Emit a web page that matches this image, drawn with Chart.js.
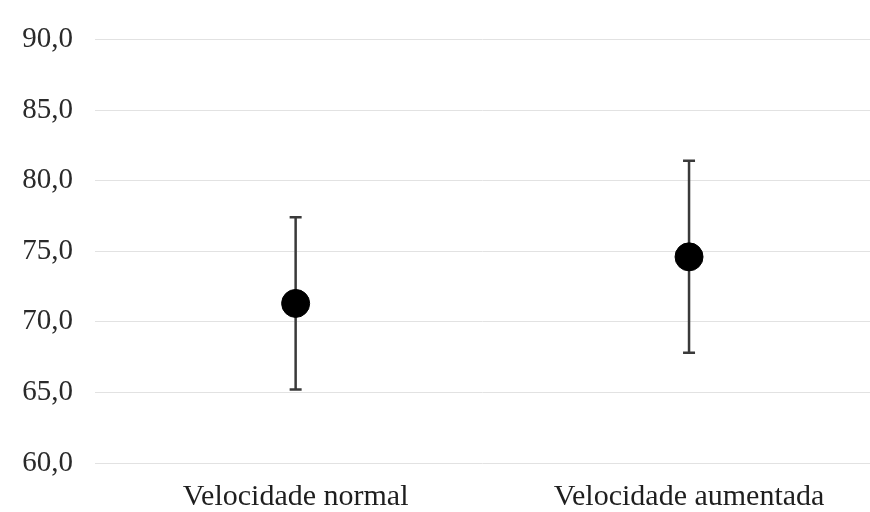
<!DOCTYPE html>
<html>
<head>
<meta charset="utf-8">
<script src="https://cdn.jsdelivr.net/npm/chart.js@4/dist/chart.umd.min.js"></script>
<style>
  html, body { margin: 0; padding: 0; background: #fff; overflow: hidden; }
  canvas { display: block; }
</style>
</head>
<body>
<canvas id="errChart" width="870" height="512"></canvas>
<script>
// dados
const categorias = ['Velocidade normal', 'Velocidade aumentada'];
const medias = [71.3, 74.6];
const erros = [6.1, 6.8];
const yTicks = [60, 65, 70, 75, 80, 85, 90];

const fonteSerif = 'Liberation Serif';

// desenha as barras de erro usando as escalas do gráfico
const errorBarsPlugin = {
    id: 'errorBars',
    beforeDatasetsDraw(chart) {
        const ctx = chart.ctx;
        const xs = chart.scales.x;
        const ys = chart.scales.y;
        ctx.save();
        ctx.strokeStyle = '#3a3a3a';
        ctx.lineWidth = 2.5;
        medias.forEach((m, i) => {
            const x = xs.getPixelForValue(i);
            const yTop = ys.getPixelForValue(m + erros[i]);
            const yBot = ys.getPixelForValue(m - erros[i]);
            ctx.beginPath();
            ctx.moveTo(x, yTop);
            ctx.lineTo(x, yBot);
            ctx.moveTo(x - 6, yTop);
            ctx.lineTo(x + 6, yTop);
            ctx.moveTo(x - 6, yBot);
            ctx.lineTo(x + 6, yBot);
            ctx.stroke();
        });
        ctx.restore();
    }
};

const ctx = document.getElementById('errChart').getContext('2d');
new Chart(ctx, {
    type: 'scatter',
    data: {
        datasets: [{
            label: 'Média',
            data: medias.map((v, i) => ({ x: i, y: v })),
            backgroundColor: '#000',
            borderColor: '#000',
            pointRadius: 14,
            pointHoverRadius: 14,
            showLine: false
        }]
    },
    options: {
        responsive: false,
        animation: false,
        devicePixelRatio: 1,
        layout: { autoPadding: false, padding: { top: 32, right: 0, bottom: 0, left: 0 } },
        plugins: {
            legend: { display: false },
            tooltip: { enabled: false }
        },
        scales: {
            x: {
                type: 'linear',
                min: -0.51,
                max: 1.46,
                afterBuildTicks: function (scale) {
                    scale.ticks = categorias.map((c, i) => ({ value: i }));
                },
                afterFit: function (scale) { scale.height = 49; },
                grid: { display: false, drawTicks: false },
                border: { display: false },
                ticks: {
                    padding: 16,
                    maxRotation: 0,
                    autoSkip: false,
                    color: '#1e1e1e',
                    font: { family: fonteSerif, size: 30 },
                    callback: function (v) { return categorias[v]; }
                }
            },
            y: {
                min: yTicks[0],
                max: yTicks[yTicks.length - 1],
                afterBuildTicks: function (scale) {
                    scale.ticks = yTicks.map(v => ({ value: v }));
                },
                afterFit: function (scale) { scale.width = 95; },
                grid: { color: '#e2e2e2', lineWidth: 1, drawTicks: false },
                border: { display: false },
                ticks: {
                    padding: 22,
                    color: '#2a2a2a',
                    font: { family: fonteSerif, size: 29 },
                    callback: function (v) { return v.toFixed(1).replace('.', ','); }
                }
            }
        }
    },
    plugins: [errorBarsPlugin]
});
</script>
</body>
</html>
